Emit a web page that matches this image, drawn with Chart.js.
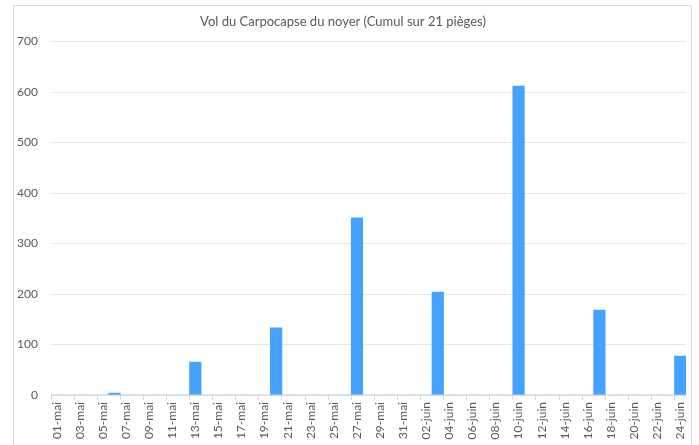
<!DOCTYPE html>
<html>
<head>
<meta charset="utf-8">
<script src="https://cdn.jsdelivr.net/npm/chart.js@4/dist/chart.umd.min.js"></script>
<style>
  html, body { margin: 0; padding: 0; background: #fff; overflow: hidden; }
  #frame {
    position: absolute; left: 13px; top: 5px; width: 679px; height: 470px;
    border: 1px solid #d9d9d9; box-sizing: border-box;
  }
  #wrap { position: absolute; left: 0; top: 0; width: 699px; height: 445px; }
</style>
</head>
<body>
<div id="frame"></div>
<div id="wrap"><canvas id="chart"></canvas></div>
<script>
// one category per day, 01-mai .. 24-juin
const days = [
  "01-mai", "02-mai", "03-mai", "04-mai", "05-mai", "06-mai", "07-mai", "08-mai",
  "09-mai", "10-mai", "11-mai", "12-mai", "13-mai", "14-mai", "15-mai", "16-mai",
  "17-mai", "18-mai", "19-mai", "20-mai", "21-mai", "22-mai", "23-mai", "24-mai",
  "25-mai", "26-mai", "27-mai", "28-mai", "29-mai", "30-mai", "31-mai",
  "01-juin", "02-juin", "03-juin", "04-juin", "05-juin", "06-juin", "07-juin",
  "08-juin", "09-juin", "10-juin", "11-juin", "12-juin", "13-juin", "14-juin",
  "15-juin", "16-juin", "17-juin", "18-juin", "19-juin", "20-juin", "21-juin",
  "22-juin", "23-juin", "24-juin"
];

// catches (sum over 21 traps)
const captures = [
  0, 0, 0, 0, 0, 4, 0, 0,
  0, 0, 0, 0, 65, 0, 0, 0,
  0, 0, 0, 133, 0, 0, 0, 0,
  0, 0, 351, 0, 0, 0, 0,
  0, 0, 204, 0, 0, 0, 0,
  0, 0, 612, 0, 0, 0, 0,
  0, 0, 168, 0, 0, 0, 0,
  0, 0, 77
];

const yTicks = [0, 100, 200, 300, 400, 500, 600, 700];

const grey = "#595959";
const font = { family: "Lato", size: 12 };

new Chart(document.getElementById("chart"), {
  type: "bar",
  data: {
    labels: days,
    datasets: [
      {
        label: "Vol du Carpocapse du noyer",
        data: captures,
        backgroundColor: "#45a2ff",
        borderWidth: 0,
        barPercentage: 1,
        categoryPercentage: 1,
      },
    ],
  },
  options: {
    responsive: true,
    maintainAspectRatio: false,
    animation: false,
    layout: {
      padding: { top: 0, right: 13, bottom: 0, left: 0 },
    },
    plugins: {
      legend: { display: false },
      tooltip: { enabled: false },
      title: {
        display: true,
        text: "Vol du Carpocapse du noyer (Cumul sur 21 pièges)",
        color: grey,
        font: { family: "Lato", size: 13, weight: "normal" },
        padding: { top: 14, bottom: 12 },
      },
    },
    scales: {
      x: {
        offset: true,
        grid: {
          offset: true,
          drawOnChartArea: false,
          drawTicks: true,
          tickLength: 5,
          // tick marks every two days only
          color: (ctx) => (ctx.index % 2 === 0 ? "#d9d9d9" : "rgba(0,0,0,0)"),
        },
        border: { display: true, color: "#d9d9d9" },
        ticks: {
          autoSkip: false,
          minRotation: 90,
          maxRotation: 90,
          padding: 2,
          color: grey,
          font: font,
          callback: function (value, index) {
            return index % 2 === 0 ? days[index] : "";
          },
        },
        afterFit: (scale) => {
          scale.height = 50;
        },
      },
      y: {
        min: 0,
        max: 700,
        afterBuildTicks: (scale) => {
          scale.ticks = yTicks.map((v) => ({ value: v }));
        },
        grid: { color: "#e6e6e6", drawTicks: false },
        border: { display: false },
        ticks: {
          padding: 13,
          color: grey,
          font: font,
        },
        afterFit: (scale) => {
          scale.width = 51;
        },
      },
    },
  },
});
</script>
</body>
</html>
